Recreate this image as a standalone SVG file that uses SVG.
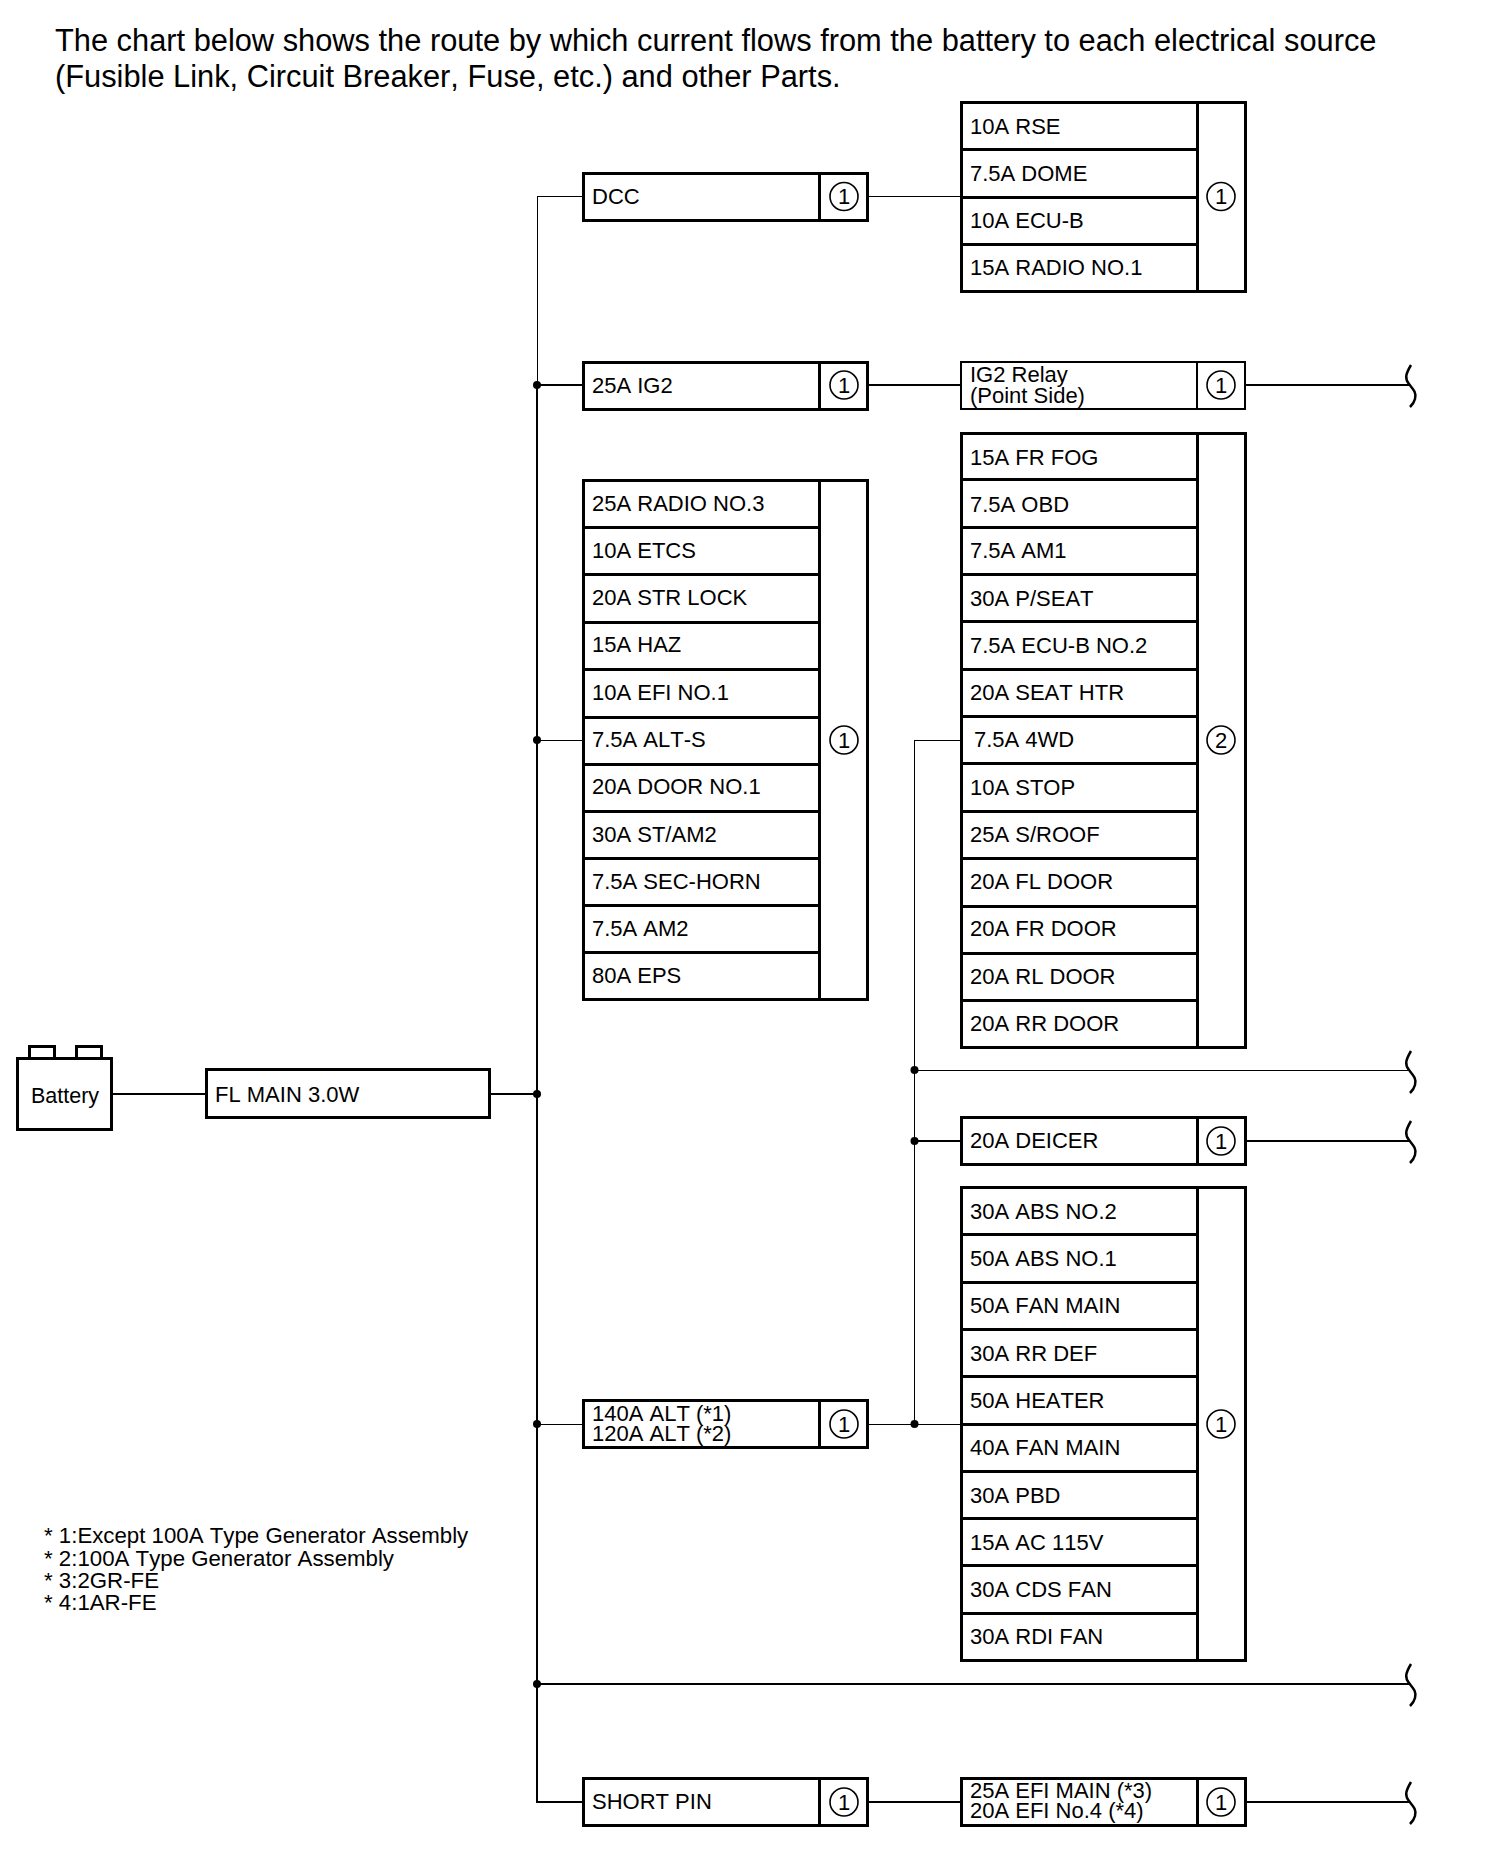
<svg xmlns="http://www.w3.org/2000/svg" width="1504" height="1876" viewBox="0 0 1504 1876">
<defs>
<style>
text{font-family:"Liberation Sans",Arial,sans-serif;font-size:22px;fill:#000;font-kerning:none}
.h{font-size:30.8px}
.f{font-size:22.25px}
.b{fill:#fff;stroke:#000;stroke-width:3;shape-rendering:crispEdges}
.d{stroke:#000;stroke-width:3;fill:none;shape-rendering:crispEdges}
.t{stroke:#000;stroke-width:2;fill:none;shape-rendering:crispEdges}
.n{stroke:#000;stroke-width:1;fill:none;shape-rendering:crispEdges}
.c{fill:#fff;stroke:#000;stroke-width:1.6}
.j{fill:#000}
.m{text-anchor:middle}
.z{stroke:#000;stroke-width:2.5;fill:none}
</style>
<path id="zig" class="z" d="M1411 -20C1405 -10 1405 -6 1409 -1C1413 4 1417 8 1415 14C1414 18 1412 20 1410 22"/>
</defs>
<rect width="1504" height="1876" fill="#fff"/>
<g id="header">
<text class="h" x="55" y="51">The chart below shows the route by which current flows from the battery to each electrical source</text>
<text class="h" x="55" y="87">(Fusible Link, Circuit Breaker, Fuse, etc.) and other Parts.</text>
</g>
<g id="connectors">
<path class="n" d="M537 196V385"/>
<path class="t" d="M537 385V1802H583"/>
<path class="n" d="M537 196H583M867 196H961"/>
<path class="t" d="M537 385H583M867 385H961M1245 385H1410"/>
<path class="n" d="M537 740H583M961 740H914.500V1424M914.500 1070H1410"/>
<path class="t" d="M914.500 1141H962M1245 1141H1410"/>
<path class="n" d="M537 1424H583M867 1424H961"/>
<path class="t" d="M111 1094H206M489 1094H537M537 1684H1410M867 1802H961M1245 1802H1410"/>
<use href="#zig" x="0" y="385"/>
<use href="#zig" x="0" y="1071"/>
<use href="#zig" x="0" y="1141"/>
<use href="#zig" x="0" y="1684"/>
<use href="#zig" x="0" y="1802"/>
<circle class="j" cx="537" cy="385" r="4"/>
<circle class="j" cx="537" cy="740" r="4"/>
<circle class="j" cx="537" cy="1094" r="4"/>
<circle class="j" cx="537" cy="1424" r="4"/>
<circle class="j" cx="537" cy="1684" r="4"/>
<circle class="j" cx="914.500" cy="1070" r="4"/>
<circle class="j" cx="914.500" cy="1141" r="4"/>
<circle class="j" cx="914.500" cy="1424" r="4"/>
</g>
<g id="battery">
<rect class="b" x="29" y="1046" width="25" height="14"/>
<rect class="b" x="76" y="1046" width="25" height="14"/>
<rect class="b" x="17" y="1058" width="94" height="71"/>
<text x="31" y="1103" style="font-size:21.500px">Battery</text>
</g>
<g id="fl-main">
<rect class="b" x="206" y="1069" width="283" height="48"/>
<text x="215" y="1102">FL MAIN 3.0W</text>
</g>
<g id="dcc">
<rect class="b" x="583" y="173" width="284" height="47"/>
<path class="d" d="M819 173V220"/>
<text x="592" y="204">DCC</text>
<circle class="c" cx="844" cy="196.500" r="14"/><text class="m" x="844" y="204">1</text>
</g>
<g id="ig2">
<rect class="b" x="583" y="362" width="284" height="47"/>
<path class="d" d="M819 362V409"/>
<text x="592" y="393">25A IG2</text>
<circle class="c" cx="844" cy="385" r="14"/><text class="m" x="844" y="393">1</text>
</g>
<g id="fuses-a">
<rect class="b" x="583" y="480" width="284" height="519"/>
<path class="d" d="M819 480V999M583 527H819M583 574H819M583 622H819M583 669H819M583 717H819M583 764H819M583 811H819M583 858H819M583 905H819M583 952H819"/>
<text x="592" y="511">25A RADIO NO.3</text>
<text x="592" y="558">10A ETCS</text>
<text x="592" y="605">20A STR LOCK</text>
<text x="592" y="652">15A HAZ</text>
<text x="592" y="700">10A EFI NO.1</text>
<text x="592" y="747">7.5A ALT-S</text>
<text x="592" y="794">20A DOOR NO.1</text>
<text x="592" y="842">30A ST/AM2</text>
<text x="592" y="889">7.5A SEC-HORN</text>
<text x="592" y="936">7.5A AM2</text>
<text x="592" y="983">80A EPS</text>
<circle class="c" cx="844" cy="740" r="14"/><text class="m" x="844" y="748">1</text>
</g>
<g id="alt">
<rect class="b" x="583" y="1400" width="284" height="47"/>
<path class="d" d="M819 1400V1447"/>
<text x="592" y="1421">140A ALT (*1)</text>
<text x="592" y="1441">120A ALT (*2)</text>
<circle class="c" cx="844" cy="1424" r="14"/><text class="m" x="844" y="1432">1</text>
</g>
<g id="short-pin">
<rect class="b" x="583" y="1778" width="284" height="47"/>
<path class="d" d="M819 1778V1825"/>
<text x="592" y="1809">SHORT PIN</text>
<circle class="c" cx="844" cy="1802" r="14"/><text class="m" x="844" y="1810">1</text>
</g>
<g id="fuses-d">
<rect class="b" x="961" y="102" width="284" height="189"/>
<path class="d" d="M1197 102V291M961 149H1197M961 197H1197M961 244H1197"/>
<text x="970" y="134">10A RSE</text>
<text x="970" y="181">7.5A DOME</text>
<text x="970" y="228">10A ECU-B</text>
<text x="970" y="275">15A RADIO NO.1</text>
<circle class="c" cx="1221" cy="196.500" r="14"/><text class="m" x="1221" y="204">1</text>
</g>
<g id="ig2-relay">
<rect class="b" x="961" y="362" width="284" height="47" style="stroke-width:2"/>
<path class="t" d="M1197 362V409"/>
<text x="970" y="382">IG2 Relay</text>
<text x="970" y="403">(Point Side)</text>
<circle class="c" cx="1221" cy="385" r="14"/><text class="m" x="1221" y="393">1</text>
</g>
<g id="fuses-f">
<rect class="b" x="961" y="433" width="284" height="614"/>
<path class="d" d="M1197 433V1047M961 479H1197M961 527H1197M961 574H1197M961 621H1197M961 669H1197M961 716H1197M961 763H1197M961 811H1197M961 858H1197M961 906H1197M961 953H1197M961 1000H1197"/>
<text x="970" y="465">15A FR FOG</text>
<text x="970" y="512">7.5A OBD</text>
<text x="970" y="558">7.5A AM1</text>
<text x="970" y="606">30A P/SEAT</text>
<text x="970" y="653">7.5A ECU-B NO.2</text>
<text x="970" y="700">20A SEAT HTR</text>
<text x="974" y="747">7.5A 4WD</text>
<text x="970" y="795">10A STOP</text>
<text x="970" y="842">25A S/ROOF</text>
<text x="970" y="889">20A FL DOOR</text>
<text x="970" y="936">20A FR DOOR</text>
<text x="970" y="984">20A RL DOOR</text>
<text x="970" y="1031">20A RR DOOR</text>
<circle class="c" cx="1221" cy="740" r="14"/><text class="m" x="1221" y="748">2</text>
</g>
<g id="deicer">
<rect class="b" x="961" y="1117" width="284" height="47"/>
<path class="d" d="M1197 1117V1164"/>
<text x="970" y="1148">20A DEICER</text>
<circle class="c" cx="1221" cy="1141" r="14"/><text class="m" x="1221" y="1149">1</text>
</g>
<g id="fuses-h">
<rect class="b" x="961" y="1187" width="284" height="473"/>
<path class="d" d="M1197 1187V1660M961 1234H1197M961 1282H1197M961 1329H1197M961 1376H1197M961 1424H1197M961 1471H1197M961 1518H1197M961 1565H1197M961 1613H1197"/>
<text x="970" y="1219">30A ABS NO.2</text>
<text x="970" y="1266">50A ABS NO.1</text>
<text x="970" y="1313">50A FAN MAIN</text>
<text x="970" y="1361">30A RR DEF</text>
<text x="970" y="1408">50A HEATER</text>
<text x="970" y="1455">40A FAN MAIN</text>
<text x="970" y="1503">30A PBD</text>
<text x="970" y="1550">15A AC 115V</text>
<text x="970" y="1597">30A CDS FAN</text>
<text x="970" y="1644">30A RDI FAN</text>
<circle class="c" cx="1221" cy="1424" r="14"/><text class="m" x="1221" y="1432">1</text>
</g>
<g id="efi">
<rect class="b" x="961" y="1778" width="284" height="47"/>
<path class="d" d="M1197 1778V1825"/>
<text x="970" y="1798">25A EFI MAIN (*3)</text>
<text x="970" y="1818">20A EFI No.4 (*4)</text>
<circle class="c" cx="1221" cy="1802" r="14"/><text class="m" x="1221" y="1810">1</text>
</g>
<g id="notes">
<text class="f" x="44" y="1543">* 1:Except 100A Type Generator Assembly</text>
<text class="f" x="44" y="1566">* 2:100A Type Generator Assembly</text>
<text class="f" x="44" y="1588">* 3:2GR-FE</text>
<text class="f" x="44" y="1610">* 4:1AR-FE</text>
</g>
</svg>
